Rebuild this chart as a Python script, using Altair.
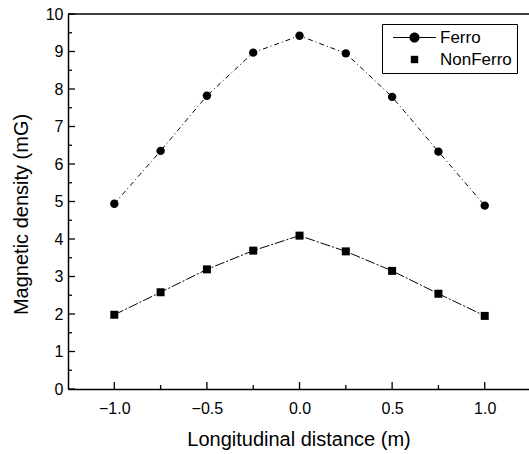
import altair as alt
import pandas as pd

# ---- data ----
x_vals = [-1.0, -0.75, -0.5, -0.25, 0.0, 0.25, 0.5, 0.75, 1.0]
ferro = [4.94, 6.35, 7.82, 8.97, 9.42, 8.95, 7.79, 6.33, 4.89]
nonferro = [1.98, 2.58, 3.19, 3.69, 4.09, 3.67, 3.15, 2.54, 1.95]
series_names = ["Ferro", "NonFerro"]
x_major = [-1.0, -0.5, 0.0, 0.5, 1.0]
x_minor = [-0.75, -0.25, 0.25, 0.75]
y_major = [0, 1, 2, 3, 4, 5, 6, 7, 8, 9, 10]
y_minor = [0.5, 1.5, 2.5, 3.5, 4.5, 5.5, 6.5, 7.5, 8.5, 9.5]
y_top = [10]
x_title = "Longitudinal distance (m)"
y_title = "Magnetic density (mG)"

FONT = "Liberation Sans"
W, H = 461, 375

df_f = pd.DataFrame({"x": x_vals, "y": ferro, "s": "Ferro"})
df_n = pd.DataFrame({"x": x_vals, "y": nonferro, "s": "NonFerro"})
df = pd.concat([df_f, df_n], ignore_index=True)

xs = alt.Scale(domain=[-1.25, 1.239], nice=False, zero=False)
ys = alt.Scale(domain=[0, 10], nice=False, zero=False)

main_x = alt.X("x:Q", scale=xs, axis=alt.Axis(
    orient="bottom", values=x_major, format=".1f", ticks=False, tickSize=0,
    grid=False, domain=True, domainColor="black", domainWidth=1.5,
    labelFont=FONT, labelFontSize=16, labelColor="black", labelPadding=11,
    title=x_title, titleFont=FONT, titleFontSize=20, titleFontWeight="normal",
    titleColor="black", titlePadding=13))
main_y = alt.Y("y:Q", scale=ys, axis=alt.Axis(
    orient="left", values=y_major, format="d", ticks=False, tickSize=0,
    grid=False, domain=True, domainColor="black", domainWidth=1.5,
    labelFont=FONT, labelFontSize=16, labelColor="black", labelPadding=5,
    title=y_title, titleFont=FONT, titleFontSize=20, titleFontWeight="normal",
    titleColor="black", titlePadding=14, titleY=200))

def nx(field="x"):
    return alt.X(f"{field}:Q", scale=xs, axis=None)

def ny(field="y"):
    return alt.Y(f"{field}:Q", scale=ys, axis=None)

ferro_line = alt.Chart(df_f).mark_line(color="black", strokeWidth=1, strokeDash=[5, 3, 1, 3]).encode(x=main_x, y=main_y)
ferro_pts = alt.Chart(df_f).mark_circle(color="black", size=71, opacity=1).encode(x=nx(), y=ny())
non_line = alt.Chart(df_n).mark_line(color="black", strokeWidth=1, strokeDash=[10, 2, 2, 2]).encode(x=nx(), y=ny())
non_pts = alt.Chart(df_n).mark_square(color="black", size=64, opacity=1).encode(x=nx(), y=ny())

# inward ticks
yt_major = alt.Chart(pd.DataFrame({"v": y_major})).mark_rule(color="black", strokeWidth=1.3).encode(
    y=ny("v"), x=alt.value(0), x2=alt.value(7))
yt_minor = alt.Chart(pd.DataFrame({"v": y_minor})).mark_rule(color="black", strokeWidth=1.3).encode(
    y=ny("v"), x=alt.value(0), x2=alt.value(4))
xt_major = alt.Chart(pd.DataFrame({"v": x_major})).mark_rule(color="black", strokeWidth=1.3).encode(
    x=nx("v"), y=alt.value(H), y2=alt.value(H - 7))
xt_minor = alt.Chart(pd.DataFrame({"v": x_minor})).mark_rule(color="black", strokeWidth=1.3).encode(
    x=nx("v"), y=alt.value(H), y2=alt.value(H - 4))

top_border = alt.Chart(pd.DataFrame({"top": y_top})).mark_rule(color="black", strokeWidth=1.5).encode(
    y=ny("top"))

# custom legend symbols (Vega scales custom paths by sqrt(size)/2)
FERRO_SYM = ("M-3.2,-0.08H3.2V0.08H-3.2Z"
             "M0.75,0A0.75,0.75,0,1,1,-0.75,0A0.75,0.75,0,1,1,0.75,0Z")
NON_SYM = "M-0.55,-0.55H0.55V0.55H-0.55Z"

legend_layer = alt.Chart(df).transform_filter("datum.x > 5").mark_point(
    filled=True, color="black", opacity=1, size=180).encode(
    x=nx(), y=ny(),
    shape=alt.Shape("s:N", scale=alt.Scale(domain=series_names, range=[FERRO_SYM, NON_SYM]),
                    legend=alt.Legend(
                        title=None, orient="none", legendX=314, legendY=10,
                        strokeColor="black", fillColor="white", padding=5,
                        symbolSize=180, symbolOffset=19, labelOffset=17,
                        labelFont=FONT, labelFontSize=17, labelColor="black",
                        rowPadding=4)),
)

chart = alt.layer(
    ferro_line, non_line, ferro_pts, non_pts,
    yt_major, yt_minor, xt_major, xt_minor, top_border, legend_layer
).resolve_axis(x="independent", y="independent").properties(
    width=W, height=H,
    autosize=alt.AutoSizeParams(type="none"),
    padding={"left": 68, "top": 14, "right": 0, "bottom": 65},
    background="white",
).configure_view(stroke=None)

chart.save("out.html", embed_options={"renderer": "svg", "actions": False})
